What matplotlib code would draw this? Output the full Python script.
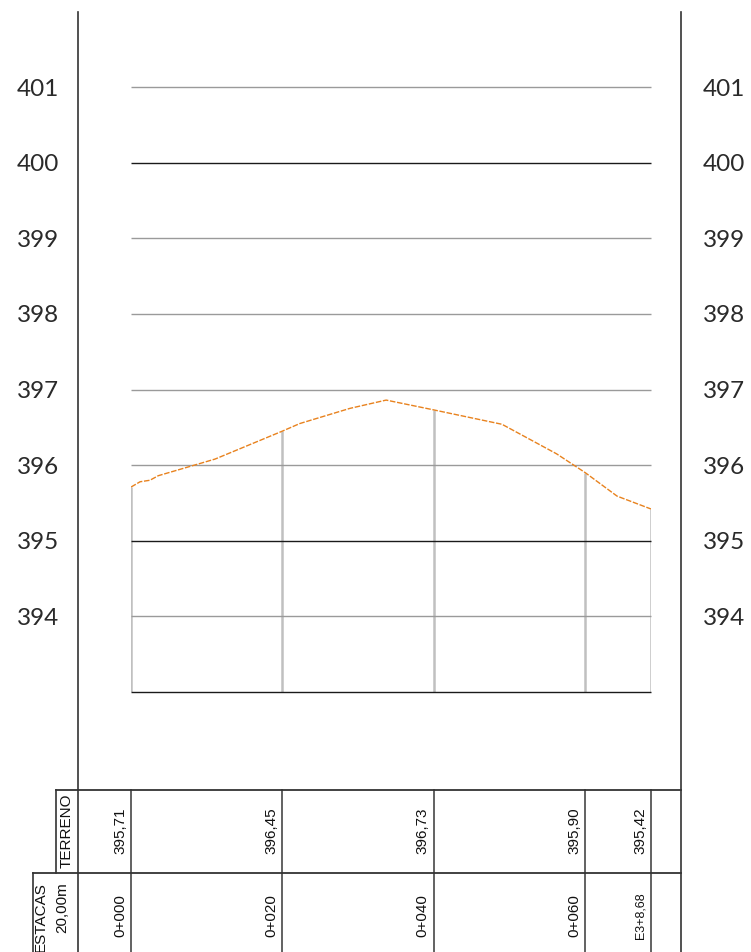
import numpy as np
import matplotlib.pyplot as plt
import matplotlib.transforms as mtransforms

# perfil del terreno: distancia (m) y cota (m)
dist = [0.0, 1.2, 2.5, 3.6, 11.1, 20.0, 22.3, 28.9, 33.7, 40.0, 49.0, 56.2, 60.0, 64.2, 68.68]
cota = [395.71, 395.78, 395.80, 395.86, 396.08, 396.45, 396.55, 396.75, 396.86,
        396.73, 396.54, 396.15, 395.90, 395.59, 395.42]

# estacas de la tabla
est_dist = [0, 20, 40, 60, 68.68]
est_cota = [395.71, 396.45, 396.73, 395.90, 395.42]
est_label = ['0+000', '0+020', '0+040', '0+060', 'E3+8,68']
terreno_label = ['395,71', '396,45', '396,73', '395,90', '395,42']

niveles = list(range(393, 402))
etiquetas = [n for n in niveles if n > 393]

W, H = 751, 952
fig = plt.figure(figsize=(W/100, H/100), dpi=100)

def fx(px):
    return px / W

def fy(py):
    return 1 - py / H

ax = fig.add_axes([fx(131), fy(692), 520/W, 605/H])
ax.set_xlim(0, 68.68)
ax.set_ylim(393, 401)
ax.axis('off')

# verticales en estacas
ax.vlines(est_dist, 393, est_cota, color='#c0c0c0', lw=1.8, zorder=1)

# lineas de cota
for n in niveles:
    if n % 5 == 0 or n == 393:
        c = '#1a1a1a'
    else:
        c = '#9a9a9a'
    ax.hlines(n, 0, 68.68, color=c, lw=1.0, zorder=2, clip_on=False)

# terreno
ax.plot(dist, cota, color='#e8821e', lw=1.0, ls=(0, (4, 1.2)), zorder=3)

# etiquetas de cota a ambos lados
tl = mtransforms.blended_transform_factory(fig.transFigure, ax.transData)
tl = mtransforms.offset_copy(tl, fig=fig, x=0, y=-2, units='dots')
for n in etiquetas:
    ax.text(fx(59), n, str(n), transform=tl, ha='right', va='center',
            fontsize=17.5, family=['Lato', 'DejaVu Sans'], color='#2a2a2a')
    ax.text(fx(703), n, str(n), transform=tl, ha='left', va='center',
            fontsize=17.5, family=['Lato', 'DejaVu Sans'], color='#2a2a2a')

# marco
lc = '#333333'
fig.add_artist(plt.Line2D([fx(78), fx(78)], [fy(12), 0], color=lc, lw=1.2))
fig.add_artist(plt.Line2D([fx(681), fx(681)], [fy(12), 0], color=lc, lw=1.2))

# tabla
fig.add_artist(plt.Line2D([fx(56), fx(681)], [fy(790), fy(790)], color=lc, lw=1.3))
fig.add_artist(plt.Line2D([fx(33), fx(681)], [fy(873), fy(873)], color=lc, lw=1.3))
fig.add_artist(plt.Line2D([fx(56), fx(56)], [fy(790), fy(873)], color=lc, lw=1.2))
fig.add_artist(plt.Line2D([fx(33), fx(33)], [fy(873), 0], color=lc, lw=1.2))

tt = mtransforms.blended_transform_factory(ax.transData, fig.transFigure)
for d in est_dist:
    ax.plot([d, d], [fy(790), 0], transform=tt, color='#555555', lw=1.3, clip_on=False)

txt = mtransforms.offset_copy(tt, fig=fig, x=-11, y=0, units='dots')
for d, t, e in zip(est_dist, terreno_label, est_label):
    ax.text(d, fy(831), t, transform=txt, rotation=90, ha='center', va='center',
            fontsize=11, family='Liberation Sans', color='#111')
    fs = 9 if e.startswith('E') else 11
    ax.text(d, fy(916), e, transform=txt, rotation=90, ha='center', va='center',
            fontsize=fs, family='Liberation Sans', color='#111')

fig.text(fx(67), fy(831), 'TERRENO', rotation=90, ha='center', va='center',
         fontsize=11, family='Liberation Sans', color='#111')
fig.text(fx(41), fy(882), 'ESTACAS', rotation=90, ha='center', va='top',
         fontsize=11, family='Liberation Sans', color='#111')
fig.text(fx(62), fy(882), '20,00m', rotation=90, ha='center', va='top',
         fontsize=11, family='Liberation Sans', color='#111')

fig.savefig('out.png', dpi=100)
